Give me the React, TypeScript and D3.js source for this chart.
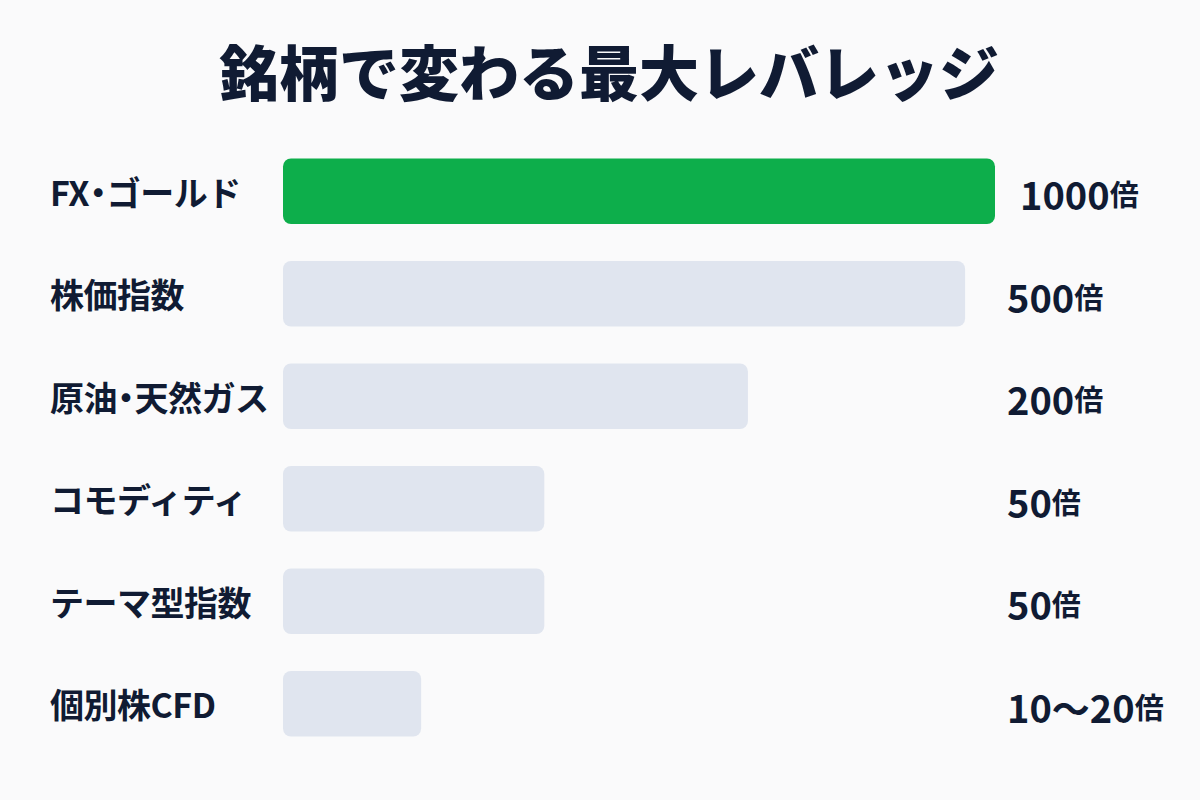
import React from "react";
import * as d3 from "d3";

const TITLE = "銘柄で変わる最大レバレッジ";
const categories = ["FX・ゴールド", "株価指数", "原油・天然ガス", "コモディティ", "テーマ型指数", "個別株CFD"];
const maxLeverage = [1000, 500, 200, 50, 50, 20];
const valueLabels = ["1000", "500", "200", "50", "50", "10〜20"];
const unit = "倍";
// Display scale used by the chart (non-linear, piecewise)
const scaleDomain = [0, 20, 50, 200, 500, 1000];
const scaleFractions = [0, 0.194, 0.367, 0.653, 0.958, 1];

const W = 1200;
const H = 800;
const FONT = "'Noto Sans CJK JP', 'Noto Sans', sans-serif";
const TEXT = "#101b33";
const GREEN = "#0dae4b";
const GRAY = "#e0e5ef";

// tighten the full-width middle dot (single text element, per-glyph dx)
function dxFor(text: string): string {
  const chars = Array.from(text);
  return chars
    .map((ch, i) => (ch === "・" || (i > 0 && chars[i - 1] === "・") ? -8 : 0))
    .join(" ");
}

export default function App() {
  const x0 = 283;
  const plotW = 712;
  const x = d3
    .scaleLinear()
    .domain(scaleDomain)
    .range(scaleFractions.map((f) => x0 + f * plotW));
  const y = d3
    .scaleBand<string>()
    .domain(categories)
    .range([140, 755])
    .paddingInner(0.36)
    .paddingOuter(0.18);

  return (
    <svg
      width={W}
      height={H}
      viewBox={`0 0 ${W} ${H}`}
      style={{ position: "absolute", left: 0, top: 0, display: "block", background: "#fafafb" }}
      fontFamily={FONT}
    >
      <rect x={0} y={0} width={W} height={H} fill="#fafafb" />
      <text x={W / 2 + 9} y={69} textAnchor="middle" dominantBaseline="central" fontSize={60} fontWeight={900} fill={TEXT}>
        {TITLE}
      </text>
      {categories.map((c, i) => {
        const by = y(c)!;
        const bh = y.bandwidth();
        const cy = by + bh / 2;
        const xe = x(maxLeverage[i]);
        const lx = Math.max(xe + 25, 1007);
        return (
          <g key={c}>
            <text x={50} y={cy} dx={dxFor(c)} dominantBaseline="central" fontSize={34} fontWeight={700} fill={TEXT} letterSpacing={-0.5}>
              {c}
            </text>
            <rect x={x0} y={by} width={xe - x0} height={bh} rx={8} ry={8} fill={i === 0 ? GREEN : GRAY} />
            <text x={lx} y={cy + 2} dominantBaseline="central" fontWeight={700} fill={TEXT}>
              <tspan fontSize={38}>{valueLabels[i]}</tspan>
              <tspan fontSize={29}>{unit}</tspan>
            </text>
          </g>
        );
      })}
    </svg>
  );
}
